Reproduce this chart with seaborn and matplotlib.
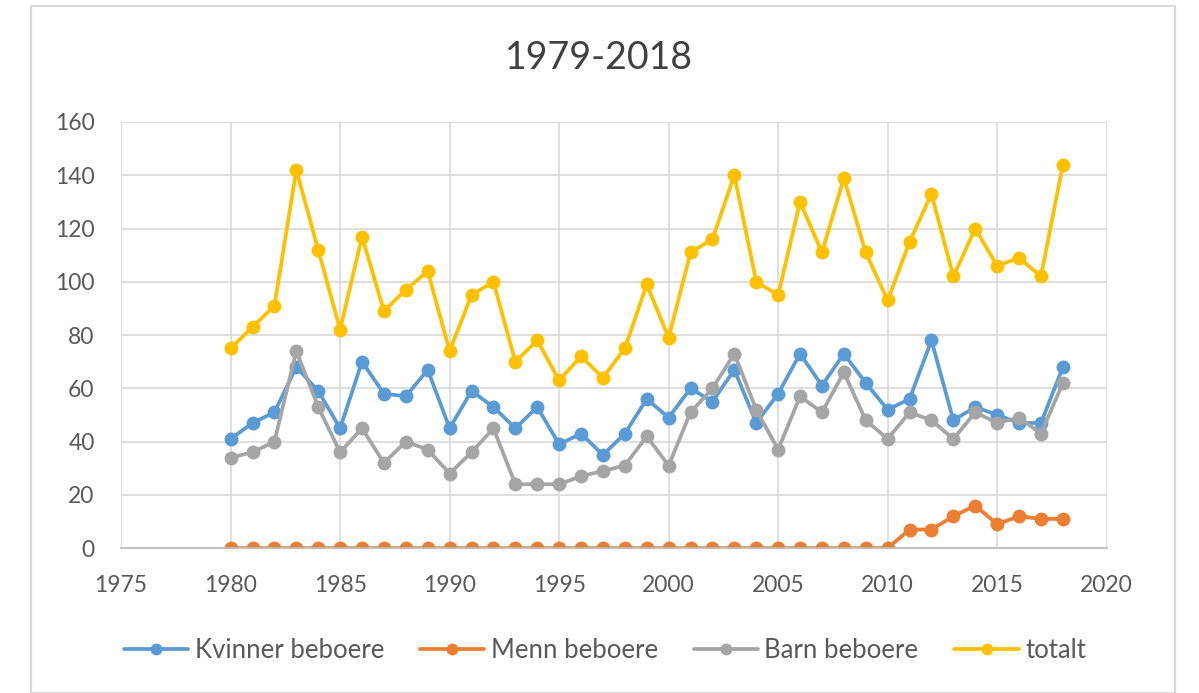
import matplotlib
matplotlib.use("Agg")
import matplotlib.pyplot as plt
import pandas as pd
import seaborn as sns
from matplotlib.patches import Rectangle

years = list(range(1980, 2019))

kvinner = [41, 47, 51, 68, 59, 45, 70, 58, 57, 67, 45, 59, 53, 45, 53, 39, 43, 35, 43,
           56, 49, 60, 55, 67, 47, 58, 73, 61, 73, 62, 52, 56, 78, 48, 53, 50, 47, 47, 68]
menn = [0] * 31 + [7, 7, 12, 16, 9, 12, 11, 11]
barn = [34, 36, 40, 74, 53, 36, 45, 32, 40, 37, 28, 36, 45, 24, 24, 24, 27, 29, 31,
        42, 31, 51, 60, 73, 52, 37, 57, 51, 66, 48, 41, 51, 48, 41, 51, 47, 49, 43, 62]
totalt = [75, 83, 91, 142, 112, 82, 117, 89, 97, 104, 74, 95, 100, 70, 78, 63, 72, 64, 75,
          99, 79, 111, 116, 140, 100, 95, 130, 111, 139, 111, 93, 115, 133, 102, 120, 106, 109, 102, 144]

series_names = ["Kvinner beboere", "Menn beboere", "Barn beboere", "totalt"]
palette = ["#5B9BD5", "#ED7D31", "#A5A5A5", "#FFC000"]

df = pd.concat([
    pd.DataFrame({"year": years, "value": vals, "serie": name})
    for name, vals in zip(series_names, [kvinner, menn, barn, totalt])
])

sns.set_style("white")
plt.rcParams["font.family"] = ["Lato", "DejaVu Sans"]

fig = plt.figure(figsize=(11.99, 6.93), dpi=100)
ax = fig.add_axes([0.101, 0.209, 0.822, 0.615])

# chart frame like the spreadsheet chart area
fig.patches.append(Rectangle((0.026, 0.0), 0.954, 0.992, transform=fig.transFigure,
                             fill=False, edgecolor="#D9D9D9", linewidth=1.5))

sns.lineplot(data=df, x="year", y="value", hue="serie", hue_order=series_names,
             palette=palette, marker="o", markersize=10, markeredgewidth=0,
             linewidth=2.7, ax=ax, legend=True)

ax.set_xlim(1975, 2020)
ax.set_ylim(0, 160)
ax.set_xticks(range(1975, 2021, 5))
ax.set_yticks(range(0, 161, 20))
ax.grid(True, color="#D9D9D9", linewidth=1.2)
ax.set_axisbelow(True)
for side in ["left", "top", "right"]:
    ax.spines[side].set_visible(False)
ax.spines["bottom"].set_color("#BFBFBF")
ax.spines["bottom"].set_linewidth(1.3)
ax.tick_params(axis="both", length=0, labelsize=16.5, labelcolor="#595959")
ax.tick_params(axis="x", pad=19)
ax.tick_params(axis="y", pad=19)
ax.set_xlabel("")
ax.set_ylabel("")

fig.text(0.5, 0.916, "1979-2018", ha="center", va="center", fontsize=27, color="#404040")

handles, labels = ax.get_legend_handles_labels()
ax.legend(handles, labels, loc="center", bbox_to_anchor=(0.491, -0.24), ncol=4,
          frameon=False, fontsize=18.5, labelcolor="#595959", handlelength=2.5,
          columnspacing=1.4, handletextpad=0.25, markerscale=0.85)

fig.savefig("out.png", dpi=100, facecolor="white")
